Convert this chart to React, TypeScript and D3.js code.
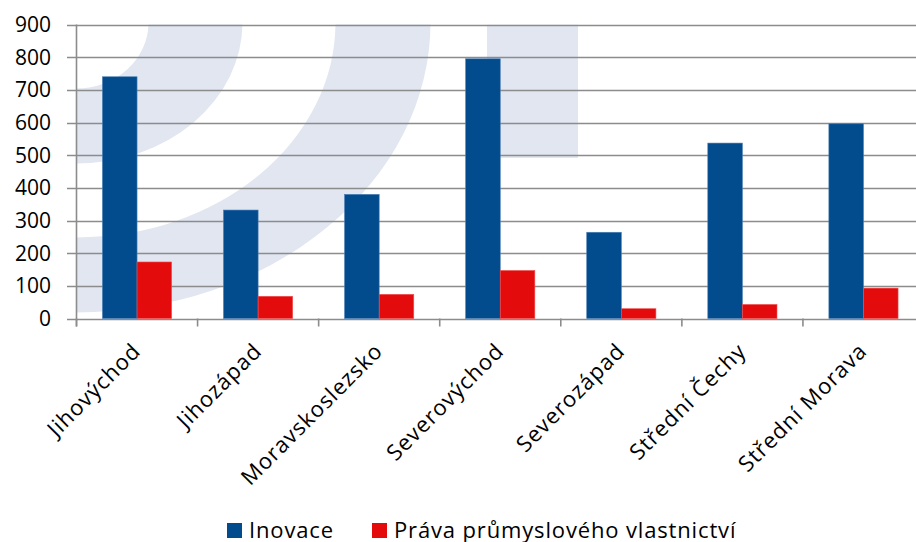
import React from "react";
import * as d3 from "d3";

const categories = [
  "Jihovýchod",
  "Jihozápad",
  "Moravskoslezsko",
  "Severovýchod",
  "Severozápad",
  "Střední Čechy",
  "Střední Morava",
];
const inovace = [740, 332, 380, 795, 264, 537, 596];
const prava = [173, 68, 74, 147, 30, 43, 93];
const yTicks = [0, 100, 200, 300, 400, 500, 600, 700, 800, 900];
const seriesNames = ["Inovace", "Práva průmyslového vlastnictví"];
const seriesColors = ["#024C8E", "#E30B0C"];
const seriesStroke = ["#4A7DB5", "#F05050"];

const W = 916;
const H = 542;
const FONT = "'Open Sans', Lato, sans-serif";

export default function App() {
  const left = 76.5;
  const right = 924;
  const top = 24.5;
  const bottom = 318.5;

  const x = d3.scaleBand<string>().domain(categories).range([left, right]).paddingInner(0).paddingOuter(0);
  const xs = d3.scaleBand<number>().domain([0, 1]).range([0, x.bandwidth()]).paddingInner(0).paddingOuter(0.75);
  const y = d3.scaleLinear().domain([0, 900]).range([bottom, top]);

  const series = [inovace, prava];

  // decorative watermark (quarter elliptical rings + rectangle), positioned relative to plot corner
  const cx0 = left;
  const cy0 = top - 2;
  const ring = (rxi: number, ryi: number, rxo: number, ryo: number) =>
    `M${cx0 + rxo},${cy0} A${rxo},${ryo} 0 0 1 ${cx0},${cy0 + ryo} L${cx0},${cy0 + ryi} A${rxi},${ryi} 0 0 0 ${cx0 + rxi},${cy0} Z`;

  const gridColor = "#8C8C8C";

  return (
    <svg
      width={W}
      height={H}
      style={{ position: "absolute", left: 0, top: 0, background: "#fff" }}
      fontFamily={FONT}
    >
      <defs>
        <clipPath id="plotClip">
          <rect x={left} y={top} width={right - left} height={bottom - top} />
        </clipPath>
      </defs>
      <g clipPath="url(#plotClip)" fill="#E1E6F0">
        <path d={ring(72, 66, 166, 141)} />
        <path d={ring(259, 215, 354, 290)} />
        <rect x={487} y={top} width={91} height={158 - top} />
      </g>

      {/* gridlines */}
      {yTicks.map((t) => (
        <line
          key={"g" + t}
          x1={67}
          x2={W}
          y1={Math.round(y(t)) + 0.5}
          y2={Math.round(y(t)) + 0.5}
          stroke={gridColor}
          strokeWidth={1.6}
        />
      ))}
      {/* y axis */}
      <line x1={left} x2={left} y1={top} y2={bottom + 8} stroke={gridColor} strokeWidth={1.6} />
      {/* x ticks */}
      {categories.map((c, i) => (
        <line
          key={"xt" + i}
          x1={x(c) as number}
          x2={x(c) as number}
          y1={bottom}
          y2={bottom + 8}
          stroke={gridColor}
          strokeWidth={1.6}
        />
      ))}
      <line x1={right} x2={right} y1={bottom} y2={bottom + 8} stroke={gridColor} strokeWidth={1.6} />

      {/* bars */}
      {series.map((vals, si) =>
        categories.map((c, i) => (
          <rect
            key={`b${si}-${i}`}
            x={(x(c) as number) + (xs(si) as number)}
            y={y(vals[i])}
            width={xs.bandwidth()}
            height={bottom - y(vals[i])}
            fill={seriesColors[si]}
            stroke={seriesStroke[si]}
            strokeWidth={0.6}
          />
        ))
      )}

      {/* y tick labels */}
      {yTicks.map((t) => (
        <text
          key={"yl" + t}
          x={51}
          y={y(t)}
          dy="0.36em"
          textAnchor="end"
          fontSize={21}
          fill="#000"
        >
          {t}
        </text>
      ))}

      {/* x labels */}
      {categories.map((c) => {
        const cx = (x(c) as number) + x.bandwidth() / 2;
        return (
          <text
            key={"xl" + c}
            transform={`translate(${cx + 5},${bottom + 34}) rotate(-45)`}
            textAnchor="end"
            fontSize={22}
            letterSpacing={1}
            fill="#000"
          >
            {c}
          </text>
        );
      })}

      {/* legend */}
      {seriesNames.map((n, i) => {
        const lx = [227, 372][i];
        return (
          <g key={"lg" + i}>
            <rect x={lx} y={523} width={15} height={15} fill={seriesColors[i]} />
            <text x={lx + 22} y={537.5} fontSize={22} letterSpacing={0.85} fill="#000">
              {n}
            </text>
          </g>
        );
      })}
    </svg>
  );
}
